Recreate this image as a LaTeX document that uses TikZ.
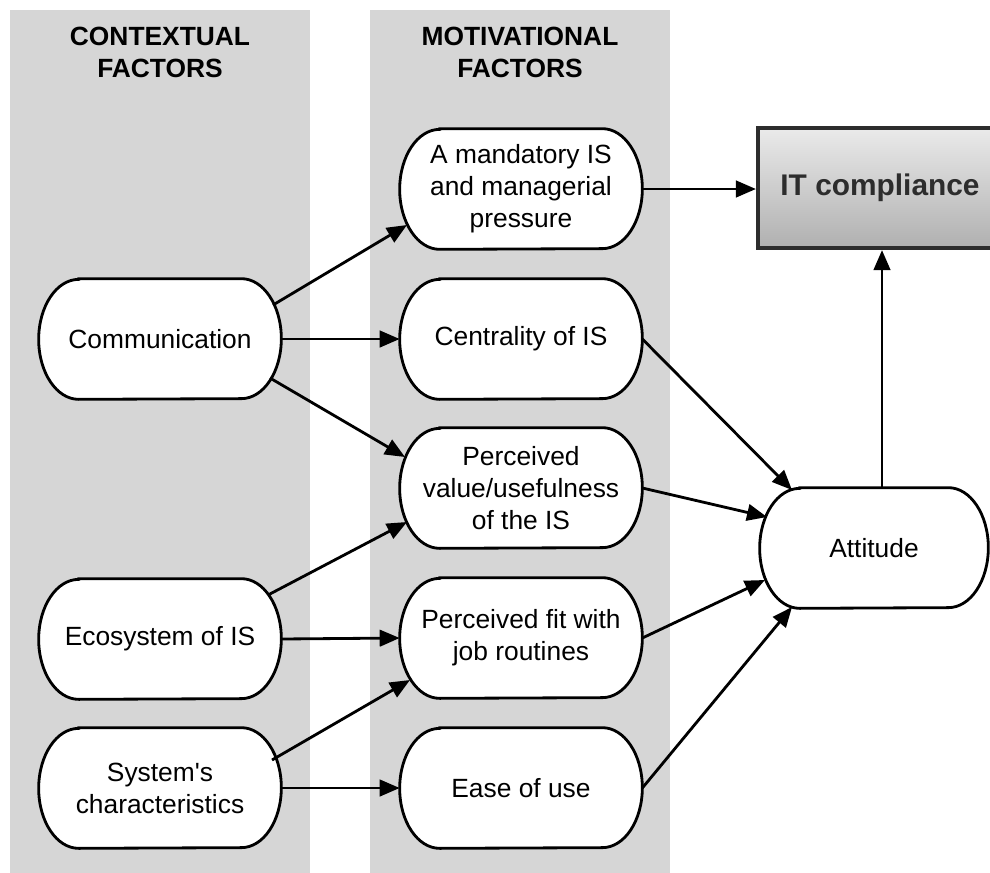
\documentclass[tikz,border=0pt]{standalone}
\usepackage{fontspec}
\setmainfont{Liberation Sans}
\usetikzlibrary{arrows.meta,calc}
\definecolor{colbg}{RGB}{214,214,214}
\definecolor{itborder}{RGB}{45,45,45}
\definecolor{ittext}{RGB}{45,45,45}
\definecolor{ittop}{RGB}{234,234,234}
\definecolor{itbot}{RGB}{176,176,176}
\pgfdeclarelayer{bg}
\pgfdeclarelayer{shapes}
\pgfsetlayers{bg,shapes,main}
\newcommand\apos{{\XeTeXglyph\XeTeXcharglyph"27\relax}}
\begin{document}
\begin{tikzpicture}[x=0.02cm,y=-0.02cm,
  factor/.style={rectangle, draw=none, fill=none,
    minimum width=4.84cm, minimum height=2.4cm, inner sep=0pt, align=center,
    font=\fontsize{15}{18.2}\selectfont},
  outline/.style={draw=black, line width=1.6pt, fill=white},
  header/.style={align=center, font=\fontsize{15}{18.2}\selectfont\bfseries},
  link/.style={line width=1.6pt, -{Triangle[length=0.4cm,width=0.33cm]}},
  itbox/.style={rectangle, draw=itborder, line width=2.4pt, top color=ittop, bottom color=itbot,
    minimum width=4.88cm, minimum height=2.4cm, inner sep=0pt, text=ittext,
    font=\fontsize{17}{20}\selectfont\bfseries},
  colpanel/.style={fill=colbg, draw=none}
]
\useasboundingbox (0,0) rectangle (990,872);
\clip (0,0) rectangle (990,872);

% columns
\begin{pgfonlayer}{bg}
\path[colpanel] (10,10) rectangle (310,880);
\path[colpanel] (370,10) rectangle (670,880);
\end{pgfonlayer}

\node[header] (h1) at (160,52) {CONTEXTUAL\\FACTORS};
\node[header] (h2) at (520,52) {MOTIVATIONAL\\FACTORS};

% contextual factors
\node[factor] (comm) at (160,339) {Communication};
\node[factor] (eco)  at (160,639) {Ecosystem of IS};
\node[factor] (sys)  at (160,788) {System\apos s\\characteristics};

% motivational factors
\node[factor] (mand) at (521,189) {A mandatory IS\\and managerial\\pressure};
\node[factor] (cent) at (521,339) {Centrality of IS};
\node[factor] (val)  at (521,488) {Perceived\\value/usefulness\\of the IS};
\node[factor] (fit)  at (521,638) {Perceived fit with\\job routines};
\node[factor] (ease) at (521,788) {Ease of use};

% outcomes
\node[factor, minimum width=4.56cm] (att) at (874,548) {Attitude};
\node[itbox] (it) at (880,188) {IT compliance};

% stadium outlines of the factor nodes
\begin{pgfonlayer}{shapes}
\foreach \n in {comm,eco,sys,mand,cent,val,fit,ease,att}{
  \draw[outline] ($(\n.north west)+(0.8cm,0)$) -- ($(\n.north east)+(-0.8cm,0)$)
    arc[start angle=90,end angle=-90,x radius=0.8cm,y radius=1.2cm]
    -- ($(\n.south west)+(0.8cm,0)$)
    arc[start angle=270,end angle=90,x radius=0.8cm,y radius=1.2cm] -- cycle;
}
\end{pgfonlayer}

% connectors
\coordinate (attup) at ($(att.north)+(8,0)$);
\draw[link] ($(comm.center)+(113,-34)$) -- ($(mand.center)+(-114,36)$);
\draw[link] (comm.east) -- (cent.west);
\draw[link] ($(comm.center)+(110,39)$) -- ($(val.center)+(-116,-31)$);
\draw[link] ($(eco.center)+(108,-44)$) -- ($(val.center)+(-114,34)$);
\draw[link] (eco.east) -- (fit.west);
\draw[link] ($(sys.center)+(112,-28)$) -- ($(fit.center)+(-111,42)$);
\draw[link] (sys.east) -- (ease.west);
\draw[link] (mand.east) -- (mand.east -| it.west);
\draw[link] (cent.east) -- ($(att.center)+(-82,-58)$);
\draw[link] (val.east) -- ($(att.center)+(-107,-31)$);
\draw[link] (fit.east) -- ($(att.center)+(-109,32)$);
\draw[link] (ease.east) -- ($(att.center)+(-82,59)$);
\draw[link] (attup) -- (attup |- it.south);
\end{tikzpicture}
\end{document}
